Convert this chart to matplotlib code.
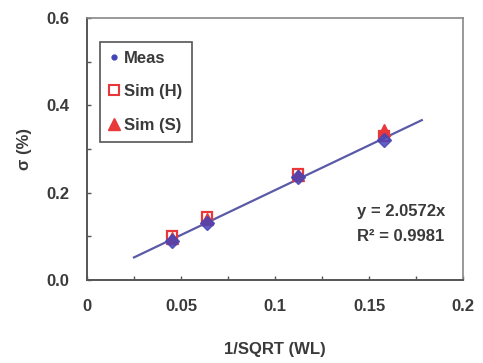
import numpy as np
import matplotlib.pyplot as plt
from matplotlib.lines import Line2D
from matplotlib import font_manager

# sigma vs 1/sqrt(W*L)
inv_sqrt_wl = [0.045, 0.064, 0.112, 0.158]
meas = [0.088, 0.130, 0.235, 0.320]
sim_h = [0.100, 0.143, 0.243, 0.330]
sim_s = [0.097, 0.140, 0.240, 0.343]

slope = 2.0572
r2 = 0.9981
fit_range = [0.025, 0.178]

xticks = [0, 0.05, 0.1, 0.15, 0.2]
xtick_labels = ['0', '0.05', '0.1', '0.15', '0.2']
yticks = [0, 0.2, 0.4, 0.6]
ytick_labels = ['0.0', '0.2', '0.4', '0.6']

names = {f.name for f in font_manager.fontManager.ttflist}
narrow = 'Liberation Sans Narrow' in names
plt.rcParams['font.family'] = (['Liberation Sans Narrow'] if narrow else []) + ['Liberation Sans', 'DejaVu Sans']
txt = '#3a3a3a'
fs = 13 if narrow else 12

fig = plt.figure(figsize=(4.83, 3.63), dpi=100)
ax = fig.add_axes([0.180, 0.229, 0.779, 0.721])

xf = np.array(fit_range)
ax.plot(xf, slope * xf, color='#5a5aa8', lw=1.6, zorder=2)

ax.plot(inv_sqrt_wl, sim_h, 's', ms=7, mfc='none', mec='#e8383a', mew=1.6, zorder=3)
ax.plot(inv_sqrt_wl, sim_s, '^', ms=8, color='#e8383a', zorder=3)
ax.plot(inv_sqrt_wl, meas, 'D', ms=7, color='#4444b8', alpha=0.85, zorder=4)

ax.set_xlim(0, 0.2)
ax.set_ylim(0, 0.6)
ax.set_xticks(xticks)
ax.set_xticklabels(xtick_labels)
ax.set_xticks([0.025, 0.075, 0.125, 0.175], minor=True)
ax.set_yticks(yticks)
ax.set_yticklabels(ytick_labels)
ax.set_yticks([0.1, 0.3, 0.5], minor=True)
ax.tick_params(which='both', direction='in', length=3, color='#555555', width=1)
ax.tick_params(axis='x', which='both', pad=14, labelsize=fs, labelcolor=txt)
ax.tick_params(axis='y', which='both', pad=13, labelsize=fs, labelcolor=txt)
for lab in ax.get_xticklabels() + ax.get_yticklabels():
    lab.set_fontweight('bold')

for s in ['left', 'bottom']:
    ax.spines[s].set_color('#555555')
    ax.spines[s].set_linewidth(1.4)
for s in ['top', 'right']:
    ax.spines[s].set_color('#888888')
    ax.spines[s].set_linewidth(1.2)

ax.set_xlabel('1/SQRT (WL)', fontsize=fs, fontweight='bold', color=txt, labelpad=20)
ax.set_ylabel('σ (%)', fontsize=fs, fontweight='bold', color=txt, labelpad=10)

ax.text(0.835, 0.245, f'y = {slope}x', transform=ax.transAxes, ha='center',
        fontsize=fs, fontweight='bold', color=txt)
ax.text(0.835, 0.150, f'R² = {r2}', transform=ax.transAxes, ha='center',
        fontsize=fs, fontweight='bold', color=txt)

handles = [
    Line2D([], [], ls='none', marker='o', ms=3.5, color='#4444b8'),
    Line2D([], [], ls='none', marker='s', ms=7, mfc='none', mec='#e8383a', mew=1.5),
    Line2D([], [], ls='none', marker='^', ms=8, color='#e8383a'),
]
leg = ax.legend(handles, ['Meas', 'Sim (H)', 'Sim (S)'], loc='upper left',
                bbox_to_anchor=(0.035, 0.91), fancybox=False, framealpha=1,
                edgecolor='#555555', handlelength=0.6, handletextpad=0.3,
                labelspacing=1.1, borderpad=0.55, borderaxespad=0,
                prop={'weight': 'bold', 'size': fs})
leg.get_frame().set_linewidth(1.2)
for t in leg.get_texts():
    t.set_color(txt)

fig.savefig('out.png', dpi=100)
